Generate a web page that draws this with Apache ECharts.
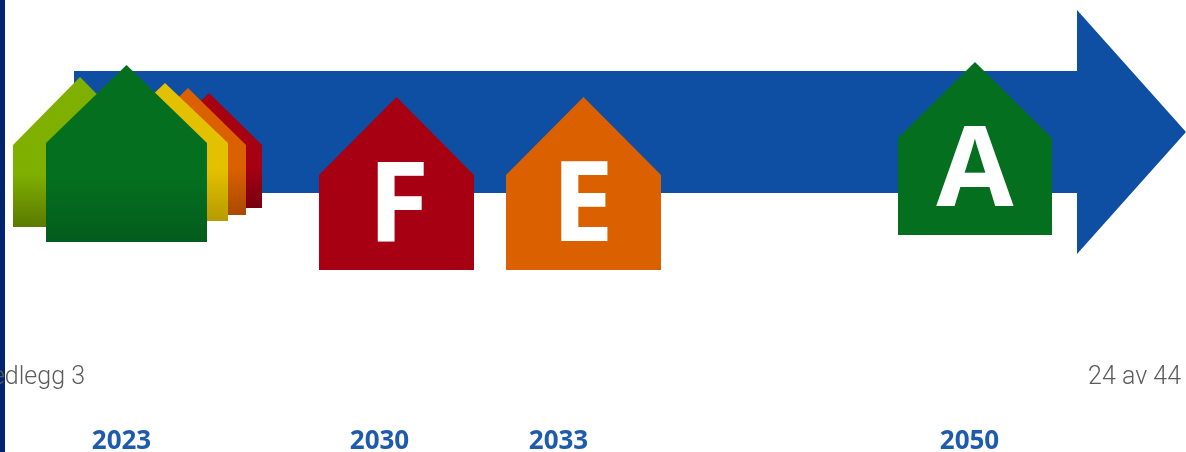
<!DOCTYPE html>
<html><head><meta charset="utf-8">
<style>html,body{margin:0;padding:0;background:#fff}#c{width:1186px;height:452px}</style>
<script src="https://cdn.jsdelivr.net/npm/echarts@6/dist/echarts.min.js"></script>
</head><body><div id="c"></div>
<script>
const houseLabels   = ['B', 'C', 'D', 'E2', 'A2', 'F', 'E', 'A'];
const houseLetters  = ['', '', '', '', '', 'F', 'E', 'A'];
const houseLeft     = [13, 156, 130, 102, 46, 319, 506, 898];
const houseRight    = [147, 262, 246, 228, 207, 474, 661, 1052];
const houseApex     = [77, 93, 88, 83, 65, 97, 97, 62];
const houseShoulder = [145, 145, 145, 143, 143, 175, 175, 138];
const houseBase     = [227, 208, 215, 221, 242, 270, 270, 235];
const letterCentreY = [0, 0, 0, 0, 0, 209, 209, 174];
const letterCentreX = [0, 0, 0, 0, 0, 398.5, 582.5, 975];
const years         = ['2023', '2030', '2033', '2050'];
const yearCentres   = [121, 379, 558, 969];
const arrowShaft    = [74, 1077, 71, 193];   // x0, x1, y0, y1
const arrowHead     = [1077, 1186, 10, 254]; // x0, tip, y0, y1

const houseTop = ['#7fb000', '#a70012', '#da6000', '#e3c000', '#04701f', '#a70012', '#da6000', '#04701f'];
const houseEnd = ['#5a7a00', '#760010', '#a84a00', '#b69a00', '#035c1c', '#a70012', '#da6000', '#04701f'];
const blue = '#0e4ea3';

const houseRows = houseLabels.map((n, i) => [houseLeft[i], houseRight[i], houseApex[i], houseShoulder[i], houseBase[i], i]);

const chart = echarts.init(document.getElementById('c'), null, {renderer: 'canvas'});
chart.setOption({
  animation: false,
  backgroundColor: '#fff',
  grid: {left: 0, right: 0, top: 0, bottom: 0},
  xAxis: {type: 'value', min: 0, max: 1186, show: false},
  yAxis: {type: 'value', min: 0, max: 452, inverse: true, show: false},
  tooltip: {show: false},
  series: [
    { // left page stripe
      type: 'custom', coordinateSystem: 'cartesian2d', silent: true, clip: false, z: 1,
      data: [[0, 5, 0, 452]],
      renderItem(p, api) {
        const a = api.coord([api.value(0), api.value(2)]), b = api.coord([api.value(1), api.value(3)]);
        return {type: 'rect', shape: {x: a[0], y: a[1], width: b[0] - a[0], height: b[1] - a[1]}, style: {fill: '#00246f'}};
      }
    },
    { // arrow
      type: 'custom', coordinateSystem: 'cartesian2d', silent: true, clip: false, z: 2,
      data: [[arrowShaft[0], arrowShaft[1], arrowShaft[2], arrowShaft[3], arrowHead[1], arrowHead[2], arrowHead[3]]],
      renderItem(p, api) {
        const v = i => api.value(i);
        const midY = (v(5) + v(6)) / 2;
        const pts = [[v(0), v(2)], [v(1), v(2)], [v(1), v(5)], [v(4), midY], [v(1), v(6)], [v(1), v(3)], [v(0), v(3)]].map(q => api.coord(q));
        return {type: 'polygon', shape: {points: pts}, style: {fill: blue}};
      }
    },
    { // houses
      type: 'custom', coordinateSystem: 'cartesian2d', silent: true, clip: false, z: 3,
      data: houseRows,
      renderItem(p, api) {
        const l = api.value(0), r = api.value(1), ap = api.value(2), s = api.value(3), b = api.value(4), i = api.value(5);
        const pts = [[l, b], [l, s], [(l + r) / 2, ap], [r, s], [r, b]].map(q => api.coord(q));
        const top = api.coord([l, ap])[1], bot = api.coord([l, b])[1];
        const start = (api.coord([l, s])[1] + (bot - api.coord([l, s])[1]) * 0.35 - top) / (bot - top);
        const children = [{
          type: 'polygon', shape: {points: pts},
          style: {fill: new echarts.graphic.LinearGradient(0, 0, 0, 1, [
            {offset: 0, color: houseTop[i]}, {offset: start, color: houseTop[i]}, {offset: 1, color: houseEnd[i]}
          ])}
        }];
        if (houseLetters[i]) {
          const c = api.coord([letterCentreX[i], letterCentreY[i]]);
          children.push({type: 'text', style: {
            x: c[0], y: c[1],
            text: houseLetters[i], fill: '#fff',
            font: '700 112px "Open Sans"', align: 'center', verticalAlign: 'middle'
          }});
        }
        return {type: 'group', children};
      }
    },
    { // year labels
      type: 'custom', coordinateSystem: 'cartesian2d', silent: true, clip: false, z: 4,
      data: years.map((y, i) => [yearCentres[i], 442, y]),
      renderItem(p, api) {
        const c = api.coord([api.value(0), api.value(1)]);
        return {type: 'text', style: {x: c[0] + 0.5, y: c[1], text: years[p.dataIndex], fill: '#1f5bad',
          font: '700 26px "Open Sans"', align: 'center', verticalAlign: 'middle'}};
      }
    },
    { // page footer text
      type: 'custom', coordinateSystem: 'cartesian2d', silent: true, clip: false, z: 5,
      data: [[85, 378, 0], [1181, 378, 1]],
      renderItem(p, api) {
        const c = api.coord([api.value(0), api.value(1)]);
        return {type: 'text', style: {x: c[0], y: c[1], text: ['Vedlegg 3', '24 av 44'][p.dataIndex], fill: '#5c5c5c',
          font: '300 25px Roboto', align: 'right', verticalAlign: 'middle'}};
      }
    }
  ]
});
</script></body></html>
